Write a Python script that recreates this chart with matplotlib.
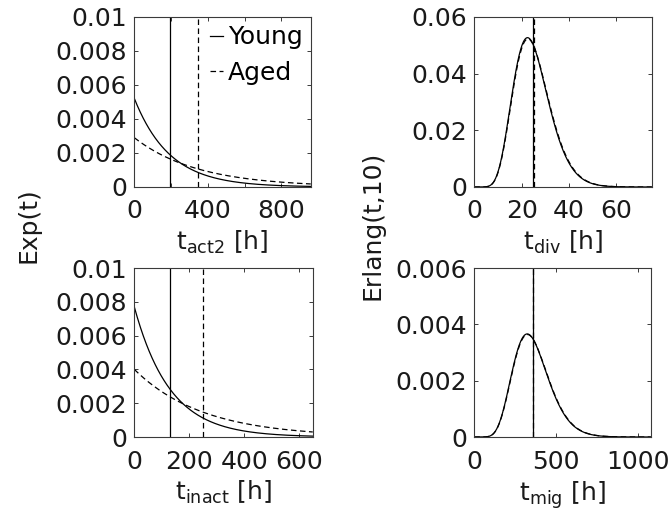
import numpy as np
import matplotlib
matplotlib.use("Agg")
from matplotlib import pyplot as plt
from matplotlib.ticker import FuncFormatter
from math import factorial

plt.rcParams["font.family"] = ["DejaVu Sans"]
plt.rcParams["mathtext.fontset"] = "dejavusans"
plt.rcParams["mathtext.default"] = "regular"
plt.rcParams["lines.scale_dashes"] = False

#Données (temps moyens en heures)

PANNEAUX = ["act2", "inact", "div", "mig"]
MOYENNE_YOUNG = [192, 130, 25.0, 360]
MOYENNE_AGED = [345, 250, 25.2, 362]
LOI = ["exp", "exp", "erlang", "erlang"]
XMAX = [960, 650, 75, 1080]
YMAX = [0.01, 0.01, 0.06, 0.006]
XTICKS = [[0, 200, 400, 600, 800], [0, 200, 400, 600], [0, 20, 40, 60], [0, 500, 1000]]
XTICKLABELS = [["0", "", "400", "", "800"], ["0", "200", "400", "600"], ["0", "20", "40", "60"], ["0", "500", "1000"]]
YTICKS = [[0, 0.002, 0.004, 0.006, 0.008, 0.01], [0, 0.002, 0.004, 0.006, 0.008, 0.01],
          [0, 0.02, 0.04, 0.06], [0, 0.002, 0.004, 0.006]]
K_ERLANG = 10

#Position des axes (fraction de la figure)
POSITIONS = [
    [0.1999, 0.6376, 0.2625, 0.3295],
    [0.1999, 0.1531, 0.2655, 0.3275],
    [0.7058, 0.6376, 0.2640, 0.3295],
    [0.7058, 0.1531, 0.2625, 0.3275],
]

FONT = 18
GRIS = "#3a3a3a"
TEXTE = "#1a1a1a"


def exp_pdf(t, moyenne):
    return np.exp(-t / moyenne) / moyenne


def erlang_pdf(t, moyenne, k=K_ERLANG):
    lam = k / moyenne
    return lam ** k * t ** (k - 1) * np.exp(-lam * t) / factorial(k - 1)


fig = plt.figure(figsize=(6.72, 5.16), dpi=100)

for i, nom in enumerate(PANNEAUX):
    ax = fig.add_axes(POSITIONS[i])
    t = np.linspace(0, XMAX[i], 600)
    pdf = exp_pdf if LOI[i] == "exp" else erlang_pdf

    ax.plot(t, pdf(t, MOYENNE_YOUNG[i]), color="black", lw=0.9, label="Young")
    ax.plot(t, pdf(t, MOYENNE_AGED[i]), color="black", lw=0.9, ls=(0, (4, 2.5)), label="Aged")
    ax.axvline(MOYENNE_YOUNG[i], color="black", lw=0.9)
    ax.axvline(MOYENNE_AGED[i], color="black", lw=0.9, ls=(0, (4, 2.5)))

    ax.set_xlim(0, XMAX[i])
    ax.set_ylim(0, YMAX[i])
    ax.set_xticks(XTICKS[i])
    ax.set_xticklabels(XTICKLABELS[i])
    ax.set_yticks(YTICKS[i])
    ax.yaxis.set_major_formatter(FuncFormatter(lambda v, p: "%g" % v))
    ax.tick_params(direction="in", length=3, width=0.7, color=GRIS, labelsize=FONT,
                   top=True, right=True, labelcolor=TEXTE)
    ax.tick_params(axis="x", pad=9)
    ax.tick_params(axis="y", pad=5)
    for spine in ax.spines.values():
        spine.set_color(GRIS)
        spine.set_linewidth(0.8)

    ax.set_xlabel(r"t$_{%s}$ [h]" % nom, fontsize=FONT, labelpad=4, color=TEXTE)

    if i == 0:
        ax.legend(loc="upper left", bbox_to_anchor=(0.43, 0.95), frameon=False, fontsize=FONT,
                  handlelength=0.5, handletextpad=0.2, labelspacing=0.45, borderpad=0, borderaxespad=0)

fig.text(0.043, 0.564, "Exp(t)", rotation=90, ha="center", va="center", fontsize=FONT, color=TEXTE)
fig.text(0.555, 0.564, "Erlang(t,10)", rotation=90, ha="center", va="center", fontsize=FONT, color=TEXTE)

fig.savefig("out.png", dpi=100)
